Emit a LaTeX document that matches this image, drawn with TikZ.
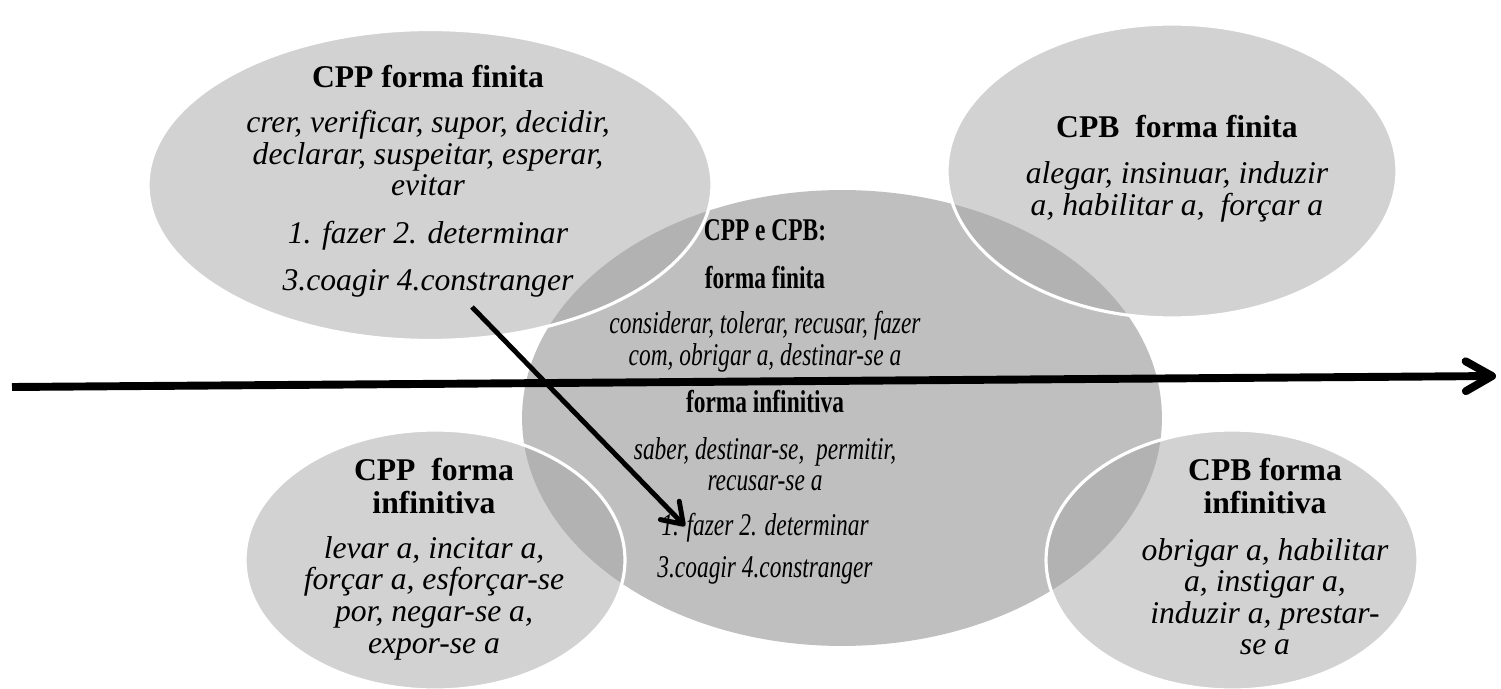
\documentclass[tikz,border=0pt]{standalone}
\usepackage{fontspec}
\setmainfont{Liberation Serif}
\newfontfamily\condfont{Liberation Serif}[FakeStretch=0.74]
\usetikzlibrary{shapes.geometric, arrows.meta, positioning}
\tikzset{
  core/.style = {
    ellipse, fill=black!25, inner sep=0pt, outer sep=0pt
  },
  bubble/.style = {
    ellipse, draw=white, line width=1.8pt,
    fill=black!35, fill opacity=0.5, inner sep=0pt, outer sep=0pt
  },
  txt/.style  = {align=center, anchor=north, inner sep=0pt,
    font=\fontsize{18}{18}\selectfont\itshape},
  ctxt/.style = {txt, font=\condfont\fontsize{18}{18}\selectfont\itshape},
  shade/.style = {preaction={draw=black!60, draw opacity=0.25,
    transform canvas={shift={(1.2pt,-1.8pt)}}}}
}
\newcommand{\hd}[1]{\textup{\bfseries #1}}

\begin{document}
\begin{tikzpicture}[
  x=0.02cm, y=-0.02cm,
  axis/.style={-{Straight Barb[length=15pt, width=17pt, round]},
    line width=4.5pt, shade},
  link/.style={-{Straight Barb[length=11pt, width=15pt, round]},
    line width=2.8pt, shade}
]
\useasboundingbox (0,0) rectangle (1501,689);
\fill[white] (0,0) rectangle (1501,689);

%% Ellipses
\node[core, minimum width=12.8cm, minimum height=9.12cm] (mid) at (842,418) {};
\node[bubble, minimum width=11.28cm, minimum height=6.22cm] (ppf) at (430,185) {};
\node[bubble, minimum width=9cm, minimum height=5.88cm] (pbf) at (1172,171) {};
\node[bubble, minimum width=7.6cm, minimum height=5.2cm] (ppi) at (435,560) {};
\node[bubble, minimum width=7.44cm, minimum height=5.2cm] (pbi) at (1232,560) {};

%% Texts
\node[txt] (ppftxt) at (428,65) {\hd{CPP forma finita}\\[7.5pt]
  crer, verificar, supor, decidir,\\
  declarar, suspeitar, esperar,\\
  evitar\\[9.2pt]
  1. fazer 2. determinar\\[8.6pt]
  3.coagir 4.constranger};
\node[txt] (pbftxt) at (1177,115) {\hd{CPB~ forma finita}\\[8.1pt]
  alegar, insinuar, induzir\\
  a, habilitar a,~ forçar a};
\node[txt] (ppitxt) at (434,458) {\hd{CPP~ forma}\\[0.7pt]
  \hd{infinitiva}\\[7.5pt]
  levar a, incitar a,\\
  forçar a, esforçar-se\\
  por, negar-se a,\\
  expor-se a};
\node[txt] (pbitxt) at (1265,458) {\hd{CPB forma}\\[0.7pt]
  \hd{infinitiva}\\[8.5pt]
  obrigar a, habilitar\\
  a, instigar a,\\
  induzir a, prestar-\\
  se a};
\node[ctxt] (midtxt) at (765,219) {\hd{CPP e CPB:}\\[9.2pt]
  \hd{forma finita}\\[8.1pt]
  considerar, tolerar, recusar, fazer\\
  com, obrigar a, destinar-se a\\[8.6pt]
  \hd{forma infinitiva}\\[8.6pt]
  saber, destinar-se,~ permitir,\\
  recusar-se a\\[7.5pt]
  1. fazer 2. determinar\\[5.8pt]
  3.coagir 4.constranger};

%% Arrows
\coordinate (axl) at (12,387);
\coordinate (axr) at (1496,376);
\coordinate (lks) at (472,307);
\coordinate (lke) at (685,526);
\draw[axis] (axl) -- (axr);
\draw[link] (lks) -- (lke);

\end{tikzpicture}
\end{document}
